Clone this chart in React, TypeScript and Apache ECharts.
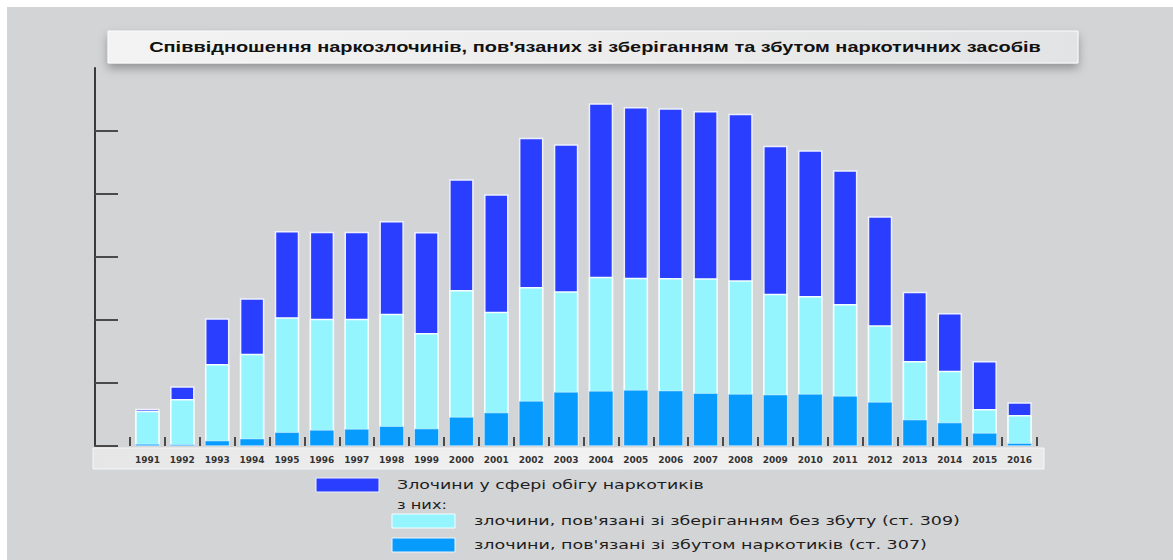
import React, { useEffect, useRef } from "react";
import * as echarts from "echarts";

const years = [
  "1991", "1992", "1993", "1994", "1995", "1996", "1997", "1998", "1999", "2000",
  "2001", "2002", "2003", "2004", "2005", "2006", "2007", "2008", "2009", "2010",
  "2011", "2012", "2013", "2014", "2015", "2016",
];

// Злочини у сфері обігу наркотиків (total)
const totalCrimes = [
  5920, 9480, 20270, 23440, 34130, 34020, 34020, 35710, 33970, 42330,
  39950, 48940, 47890, 54400, 53810, 53600, 53170, 52750, 47670, 46940,
  43760, 36460, 24490, 21110, 13490, 6940,
];

// злочини, пов'язані зі зберіганням без збуту (ст. 309)
const storageCrimes = [
  5600, 7460, 13020, 14650, 20430, 20210, 20210, 21000, 17940, 24760,
  21320, 25240, 24550, 26870, 26710, 26670, 26620, 26300, 24170, 23810,
  22540, 19160, 13490, 11950, 5870, 4920,
];

// злочини, пов'язані зі збутом наркотиків (ст. 307)
const saleCrimes = [
  320, 270, 840, 1160, 2170, 2540, 2700, 3130, 2750, 4600,
  5290, 7140, 8570, 8730, 8890, 8780, 8370, 8250, 8140, 8250,
  7940, 6980, 4170, 3700, 2060, 430,
];

const yTicks = [0, 10000, 20000, 30000, 40000, 50000];

const titleText =
  "Співвідношення наркозлочинів, пов'язаних зі зберіганням та збутом наркотичних засобів";
const legendTotal = "Злочини у сфері обігу наркотиків";
const legendSub = "з них:";
const legendStorage = "злочини, пов'язані зі зберіганням без збуту (ст. 309)";
const legendSale = "злочини, пов'язані зі збутом наркотиків (ст. 307)";

const C_TOTAL = "#2a3eff";
const C_STORAGE = "#94f5ff";
const C_SALE = "#079bfd";

function measure(text: string, font: string): number {
  const ctx = document.createElement("canvas").getContext("2d");
  if (!ctx) return 1;
  ctx.font = font;
  return ctx.measureText(text).width || 1;
}

export default function App() {
  const ref = useRef<HTMLDivElement>(null);

  useEffect(() => {
    document.body.style.margin = "0";
    if (!ref.current) return;
    const chart = echarts.init(ref.current, null, { renderer: "svg" });

    const titleFont = 'bold 14px "Liberation Sans"';
    const legFont = '13px "DejaVu Sans"';
    const sTitle = 892 / measure(titleText, titleFont);
    const s1 = 307 / measure(legendTotal, legFont);
    const s2 = 486 / measure(legendStorage, legFont);
    const s3 = 453 / measure(legendSale, legFont);
    const sSub = 50 / measure(legendSub, legFont);

    const barCommon = {
      type: "bar" as const,
      barWidth: 24.5,
      barGap: "-100%",
      silent: true,
    };

    const legText = (text: string, x: number, y: number, s: number) => ({
      type: "text",
      x,
      y,
      scaleX: s,
      style: {
        text,
        fontFamily: "DejaVu Sans",
        fontSize: 13,
        fill: "#1e1e1e",
        align: "left",
        verticalAlign: "middle",
      },
    });

    chart.setOption({
      animation: false,
      backgroundColor: "#d3d4d6",
      grid: { left: 130, right: 136, top: 68, bottom: 114 },
      xAxis: {
        type: "category",
        data: years,
        boundaryGap: true,
        axisLine: { show: false },
        axisTick: {
          show: true,
          inside: true,
          length: 9,
          lineStyle: { color: "#4a4a4a", width: 2 },
        },
        axisLabel: {
          margin: 9,
          fontFamily: "DejaVu Sans",
          fontSize: 9,
          fontWeight: "bold",
          color: "#333",
        },
        splitLine: { show: false },
      },
      yAxis: {
        type: "value",
        min: 0,
        max: 60000,
        interval: 10000,
        offset: 35,
        axisLine: { show: true, lineStyle: { color: "#3a3a3a", width: 2 } },
        axisTick: {
          show: true,
          inside: true,
          length: 23,
          customValues: yTicks,
          lineStyle: { color: "#4a4a4a", width: 2 },
        },
        axisLabel: { show: false },
        splitLine: { show: false },
      },
      series: [
        {
          ...barCommon,
          name: legendTotal,
          data: totalCrimes,
          itemStyle: { color: C_TOTAL, borderColor: "#eef0ff", borderWidth: 1.5 },
        },
        {
          ...barCommon,
          name: legendStorage,
          data: storageCrimes,
          itemStyle: { color: C_STORAGE, borderColor: "#f4ffff", borderWidth: 1.5 },
        },
        {
          ...barCommon,
          name: legendSale,
          data: saleCrimes,
          itemStyle: { color: C_SALE, borderColor: "#e6f2ff", borderWidth: 0.5 },
        },
      ],
      graphic: [
        { type: "rect", z: -1, shape: { x: 0, y: 0, width: 1173, height: 7 }, style: { fill: "#ffffff" } },
        { type: "rect", z: -1, shape: { x: 0, y: 0, width: 7, height: 560 }, style: { fill: "#ffffff" } },
        {
          type: "rect",
          z: -1,
          shape: { x: 108, y: 31, width: 970, height: 32 },
          style: {
            fill: new echarts.graphic.LinearGradient(0, 0, 1, 0, [
              { offset: 0, color: "#f3f3f3" },
              { offset: 0.5, color: "#ededed" },
              { offset: 1, color: "#e2e3e4" },
            ]),
            stroke: "#fbfbfb",
            lineWidth: 1,
            shadowBlur: 10,
            shadowOffsetY: 5,
            shadowColor: "rgba(0,0,0,0.3)",
          },
        },
        {
          type: "text",
          x: 595,
          y: 47,
          scaleX: sTitle,
          style: {
            text: titleText,
            fontFamily: "Liberation Sans",
            fontSize: 14,
            fontWeight: "bold",
            fill: "#111",
            align: "center",
            verticalAlign: "middle",
          },
        },
        {
          type: "rect",
          z: -1,
          shape: { x: 93, y: 448, width: 951, height: 21 },
          style: {
            fill: new echarts.graphic.LinearGradient(0, 0, 1, 0, [
              { offset: 0, color: "#e6e6e7" },
              { offset: 0.5, color: "#f2f2f2" },
              { offset: 1, color: "#e9e9ea" },
            ]),
            stroke: "#f6f6f6",
            lineWidth: 1,
          },
        },
        { type: "rect", shape: { x: 316, y: 478, width: 63, height: 14 }, style: { fill: C_TOTAL, stroke: "#eef0ff", lineWidth: 1 } },
        legText(legendTotal, 397, 485, s1),
        legText(legendSub, 397, 504, sSub),
        { type: "rect", shape: { x: 392, y: 514, width: 63, height: 14 }, style: { fill: C_STORAGE, stroke: "#f4ffff", lineWidth: 1 } },
        legText(legendStorage, 474, 521, s2),
        { type: "rect", shape: { x: 392, y: 538, width: 63, height: 14 }, style: { fill: C_SALE, stroke: "#eef6ff", lineWidth: 1 } },
        legText(legendSale, 474, 545, s3),
      ],
    });

    return () => chart.dispose();
  }, []);

  return <div ref={ref} style={{ width: 1173, height: 560 }} />;
}
